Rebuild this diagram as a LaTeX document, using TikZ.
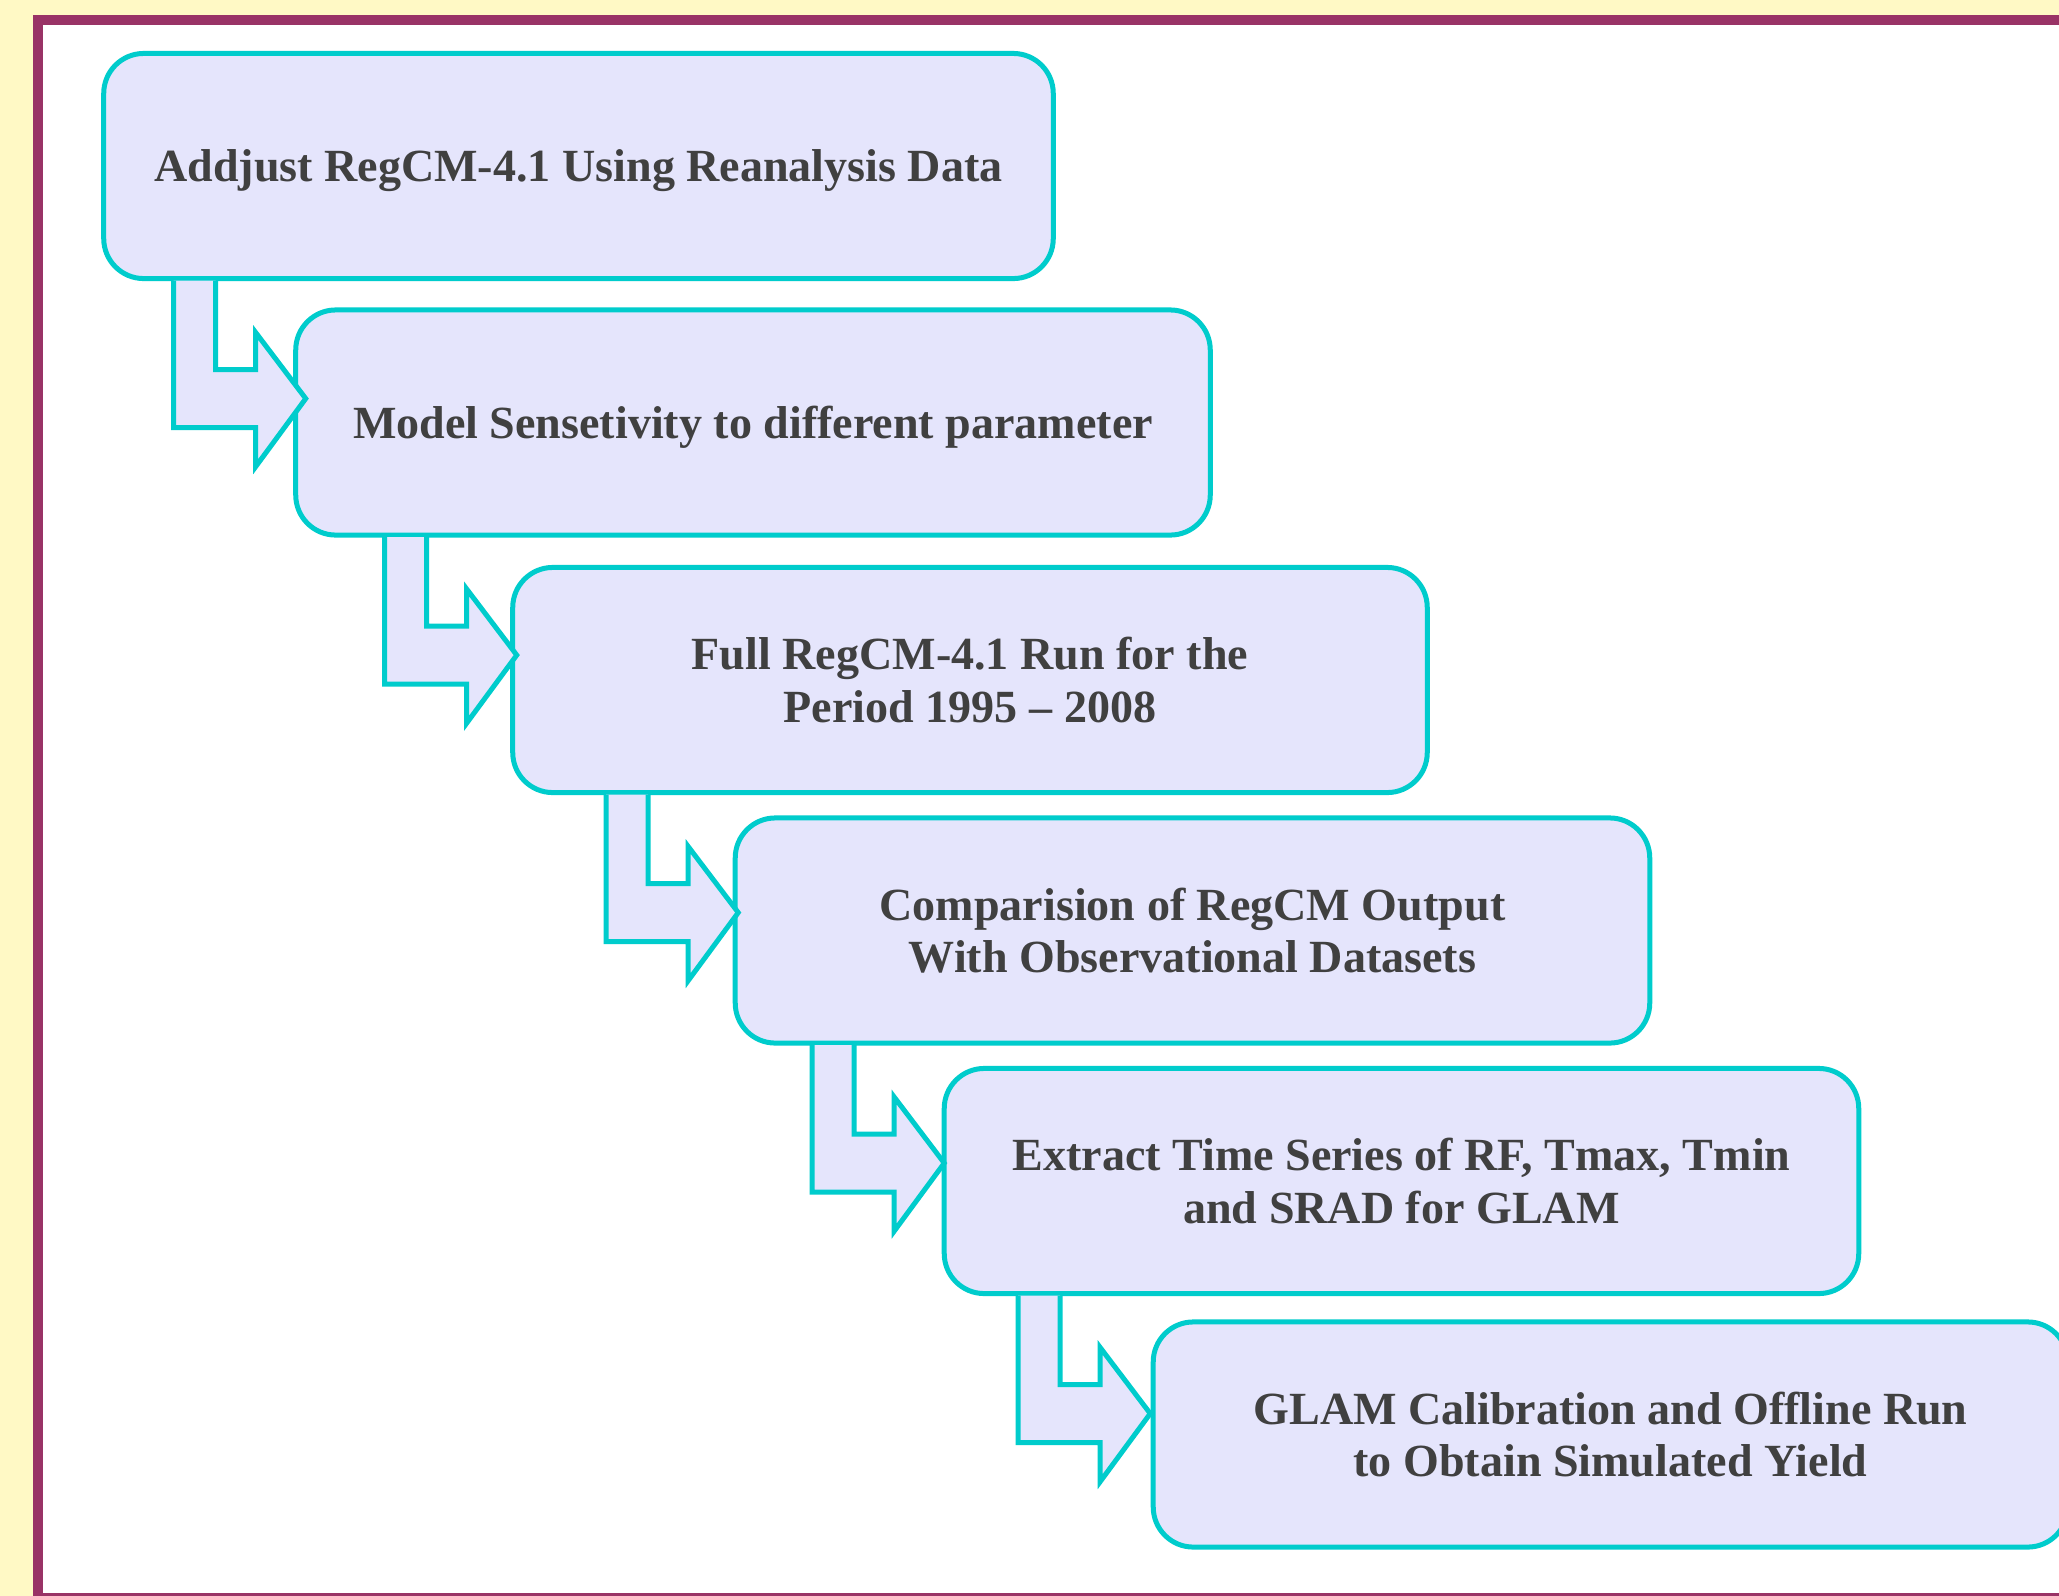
\documentclass[tikz,border=0pt]{standalone}
\usepackage{fontspec}
\setmainfont{Liberation Serif}
\usetikzlibrary{calc}
\definecolor{bgyellow}{RGB}{255,249,197}
\definecolor{framec}{RGB}{153,51,102}
\definecolor{boxfill}{RGB}{229,229,252}
\definecolor{boxline}{RGB}{0,204,204}
\definecolor{txt}{RGB}{64,64,64}
\tikzset{
  stepbox/.style={draw=boxline, fill=boxfill, line width=0.05cm, rounded corners=0.4cm,
    minimum width=9.14cm, minimum height=2.25cm, inner sep=0pt, outer sep=0pt,
    align=center, text=txt, font=\fontsize{13.1pt}{14.94pt}\selectfont\bfseries},
  oneline/.style={text depth=0pt},
  bentarrow/.style={draw=boxline, fill=boxfill, line width=0.05cm, line join=miter}
}
\newcommand\bentarr[3]{%
  \draw[bentarrow] ($(#1.south -| #2.west)+(#3,2)$) -- ++(0,147) -- ++(82,0) -- ++(0,39)
    -- ++(50,-68) -- ++(-50,-66) -- ++(0,37) -- ++(-40,0) -- ++(0,-89);
}
\begin{document}
\begin{tikzpicture}[x=0.01cm, y=-0.01cm]
\useasboundingbox (0,0) rectangle (2059,1596);
\clip (0,0) rectangle (2059,1596);
\fill[bgyellow] (0,0) rectangle (2059,1596);
\draw[framec, fill=white, line width=0.1cm] (38,20) rectangle (2080,1598);

\node[stepbox, oneline, minimum width=9.49cm] (b1) at (578.5,166) {Addjust RegCM-4.1 Using Reanalysis Data};
\node[stepbox, oneline] (b2) at (753,422.5) {Model Sensetivity to different parameter};
\bentarr{b1}{b2}{-122}
\node[stepbox] (b3) at (970,680) {Full RegCM-4.1 Run for the\\Period 1995 -- 2008};
\bentarr{b2}{b3}{-128}
\node[stepbox] (b4) at (1192.5,930.5) {Comparision of RegCM Output\\With Observational Datasets};
\bentarr{b3}{b4}{-129}
\node[stepbox] (b5) at (1401.5,1181) {Extract Time Series of RF, Tmax, Tmin\\and SRAD for GLAM};
\bentarr{b4}{b5}{-132}
\node[stepbox] (b6) at (1610.5,1434.5) {GLAM Calibration and Offline Run\\to Obtain Simulated Yield};
\bentarr{b5}{b6}{-135}
\end{tikzpicture}
\end{document}
